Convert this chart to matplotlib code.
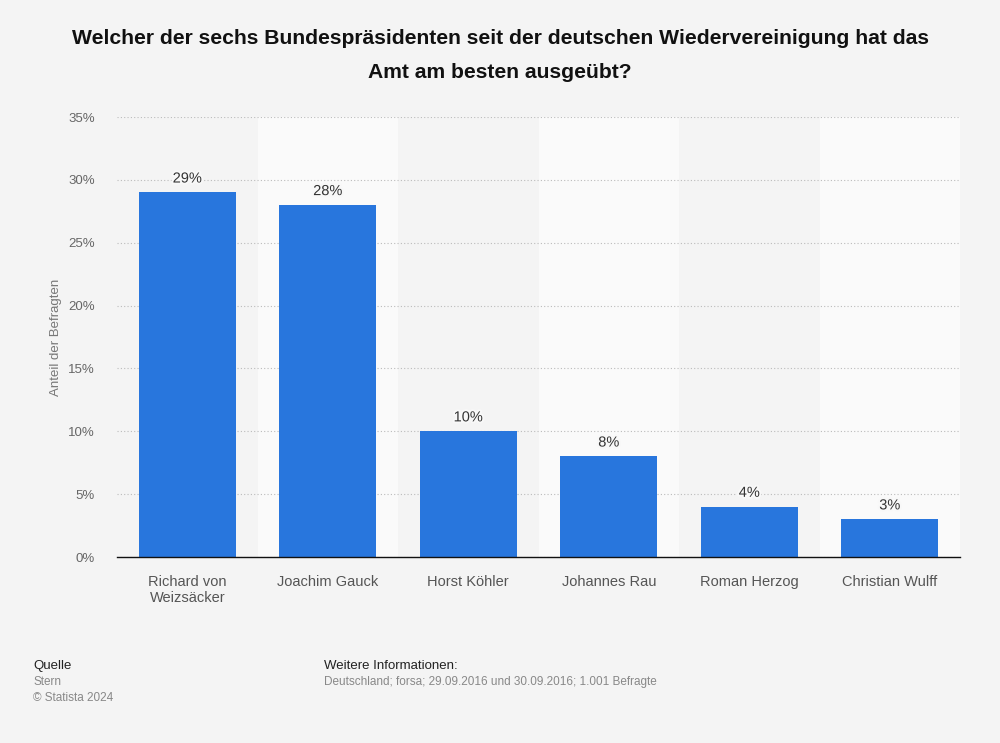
import matplotlib.pyplot as plt
import matplotlib.patheffects as pe
import numpy as np
from matplotlib.ticker import FuncFormatter

plt.rcParams['font.family'] = ['Liberation Sans', 'DejaVu Sans']

names = ["Richard von\nWeizsäcker", "Joachim Gauck", "Horst Köhler",
         "Johannes Rau", "Roman Herzog", "Christian Wulff"]
shares = [29, 28, 10, 8, 4, 3]
yticks = [0, 5, 10, 15, 20, 25, 30, 35]

bg = "#f4f4f4"
fig = plt.figure(figsize=(10, 7.43), dpi=100, facecolor=bg)
ax = fig.add_axes([0.117, 0.2503, 0.843, 0.5922])
ax.set_facecolor(bg)

x = np.arange(len(names))
# alternating column bands
for i in x:
    if i % 2 == 1:
        ax.axvspan(i - 0.5, i + 0.5, color="#fafafa", zorder=0, lw=0)

ax.yaxis.grid(True, linestyle=(0, (1, 2)), color="#bbbbbb", lw=0.8, zorder=1)
ax.set_axisbelow(True)

ax.bar(x, shares, width=0.69, color="#2876dd", zorder=2)
for xi, v in zip(x, shares):
    ax.text(xi, v + 0.55, f"{v}%", ha="center", va="bottom", fontsize=10.5,
            color="#333333", zorder=3,
            path_effects=[pe.withStroke(linewidth=3, foreground="#f8f8f8")])

ax.set_xlim(-0.5, len(names) - 0.5)
ax.set_ylim(0, 35)
ax.set_yticks(yticks)
ax.yaxis.set_major_formatter(FuncFormatter(lambda v, p: f"{v:.0f}%"))
ax.set_xticks(x)
ax.set_xticklabels(names)
ax.tick_params(axis="y", length=0, pad=16, labelsize=9.5, labelcolor="#666666")
ax.tick_params(axis="x", length=0, pad=13, labelsize=10.5, labelcolor="#555555")
for s in ["top", "right", "left"]:
    ax.spines[s].set_visible(False)
ax.spines["bottom"].set_color("#111111")
ax.spines["bottom"].set_linewidth(1.0)

ax.set_ylabel("Anteil der Befragten", fontsize=9.5, color="#777777", labelpad=4)

fig.text(0.5, 1 - 38 / 743, "Welcher der sechs Bundespräsidenten seit der deutschen Wiedervereinigung hat das",
         ha="center", va="center", fontsize=15.2, fontweight="bold", color="#111111")
fig.text(0.5, 1 - 72 / 743, "Amt am besten ausgeübt?",
         ha="center", va="center", fontsize=15.2, fontweight="bold", color="#111111")

fig.text(0.033, 0.104, "Quelle", fontsize=9.5, color="#222222", va="center")
fig.text(0.033, 0.082, "Stern", fontsize=8.5, color="#888888", va="center")
fig.text(0.033, 0.061, "© Statista 2024", fontsize=8.5, color="#888888", va="center")
fig.text(0.324, 0.104, "Weitere Informationen:", fontsize=9.5, color="#222222", va="center")
fig.text(0.324, 0.082, "Deutschland; forsa; 29.09.2016 und 30.09.2016; 1.001 Befragte",
         fontsize=8.5, color="#888888", va="center")

fig.savefig("out.png", dpi=100, facecolor=bg)
